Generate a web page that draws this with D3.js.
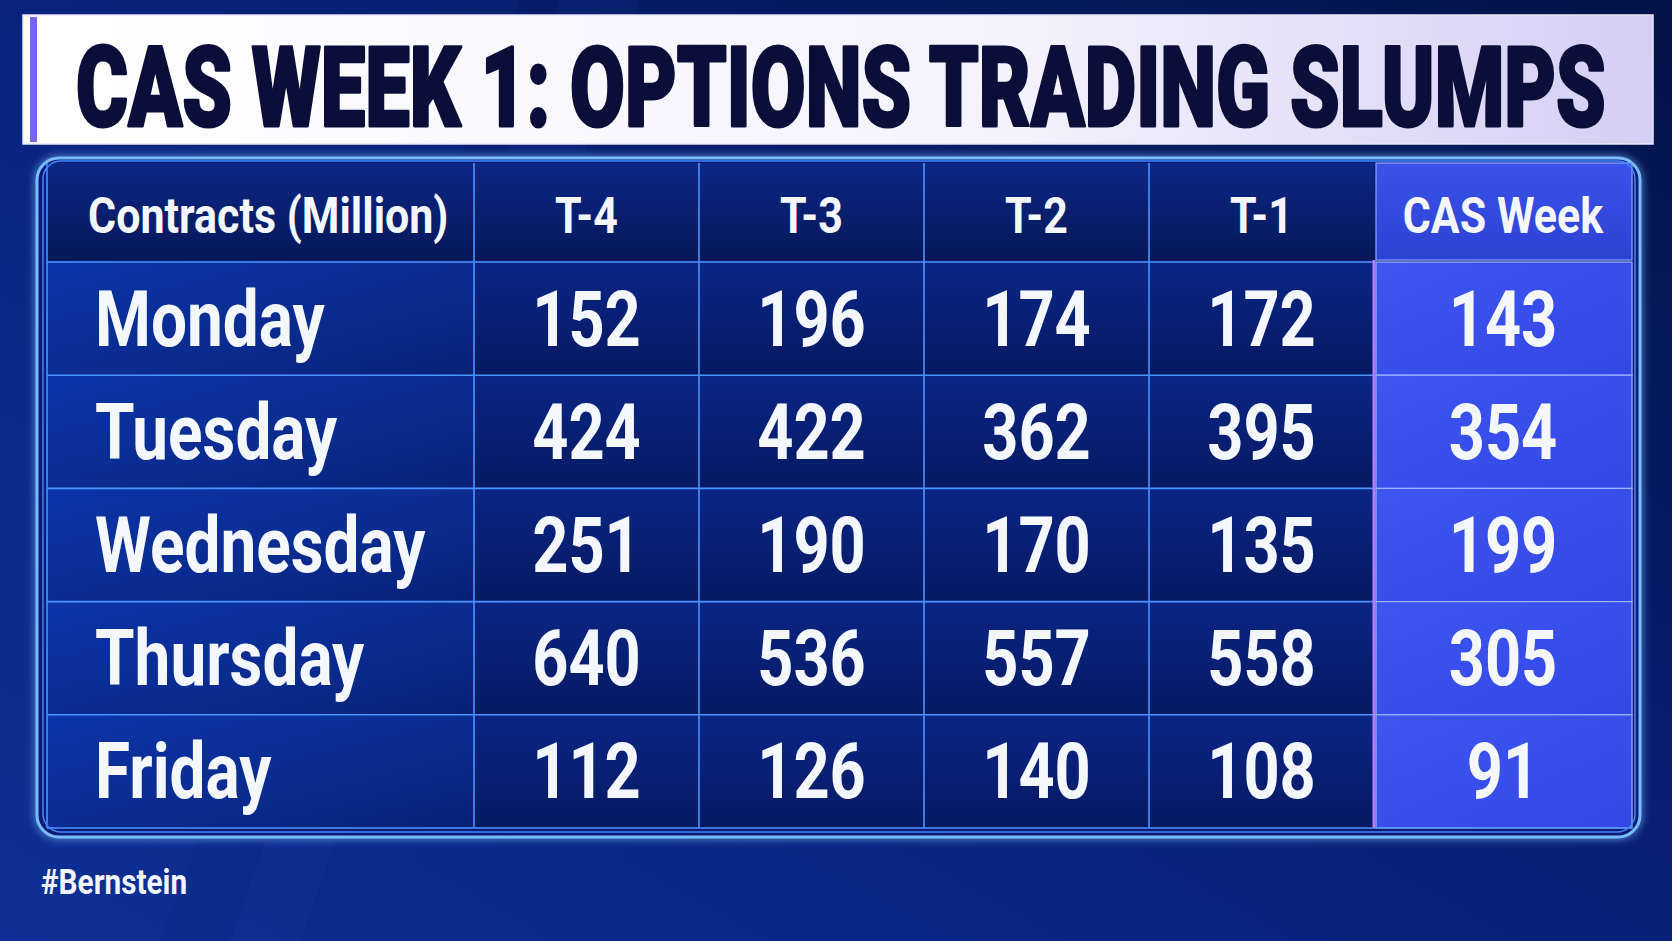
<!DOCTYPE html>
<html>
<head>
  <meta charset="utf-8">
  <title>CAS Week 1: Options Trading Slumps</title>
  <style>
    html, body { margin: 0; padding: 0; background: #061a5e; }
    svg { display: block; }
    text { font-family: Roboto, "Liberation Sans", sans-serif; }
  </style>
</head>
<body>
  <svg id="chart"></svg>

  <script src="https://d3js.org/d3.v7.min.js"></script>

  <script>
    // Data pulled from the table
    const title = 'CAS WEEK 1: OPTIONS TRADING SLUMPS';
    const cornerLabel = 'Contracts (Million)';
    const periods = ['T-4', 'T-3', 'T-2', 'T-1'];
    const currentLabel = 'CAS Week';
    const days = ['Monday', 'Tuesday', 'Wednesday', 'Thursday', 'Friday'];
    const t4 = [152, 424, 251, 640, 112];
    const t3 = [196, 422, 190, 536, 126];
    const t2 = [174, 362, 170, 557, 140];
    const t1 = [172, 395, 135, 558, 108];
    const casWeek = [143, 354, 199, 305, 91];
    const source = '#Bernstein';

    const seriesByPeriod = { 'T-4': t4, 'T-3': t3, 'T-2': t2, 'T-1': t1 };

    const W = 1672, H = 941;
    const svg = d3.select('#chart').attr('width', W).attr('height', H);
    const defs = svg.append('defs');

    // gradients
    function linGrad(id, x1, y1, x2, y2, stops) {
      const g = defs.append('linearGradient').attr('id', id)
        .attr('x1', x1).attr('y1', y1).attr('x2', x2).attr('y2', y2);
      stops.forEach(s => g.append('stop').attr('offset', s[0]).attr('stop-color', s[1]));
    }
    linGrad('bg', '1', '0', '0', '1', [[0, '#031348'], [0.5, '#082078'], [1, '#0c2d92']]);
    linGrad('banner', '0', '0', '1', '0', [[0, '#ffffff'], [0.6, '#f4f3fd'], [1, '#d4cff4']]);
    linGrad('headCell', '0', '0', '0', '1', [[0, '#0c2786'], [1, '#061858']]);
    linGrad('labelCell', '0', '0', '1', '1', [[0, '#0c34a8'], [0.6, '#0a2b8e'], [1, '#072176']]);
    linGrad('bodyCell', '0', '0', '0', '1', [[0, '#0a2585'], [1, '#061a62']]);
    linGrad('casHead', '0', '0', '0', '1', [[0, '#3b52ea'], [1, '#2c42d2']]);
    linGrad('casCell', '0', '0', '1', '1', [[0, '#3e55f2'], [1, '#3347e4']]);

    const glow = defs.append('filter').attr('id', 'glow')
      .attr('x', '-5%').attr('y', '-5%').attr('width', '110%').attr('height', '110%');
    glow.append('feGaussianBlur').attr('stdDeviation', 4).attr('result', 'b');
    const merge = glow.append('feMerge');
    merge.append('feMergeNode').attr('in', 'b');
    merge.append('feMergeNode').attr('in', 'SourceGraphic');

    // background
    svg.append('rect').attr('width', W).attr('height', H).attr('fill', 'url(#bg)');
    svg.append('polygon').attr('points', '0,0 520,0 160,941 0,941')
      .attr('fill', '#1a3fb0').attr('opacity', 0.12);
    svg.append('polygon').attr('points', '560,0 640,0 300,941 230,941')
      .attr('fill', '#2a55d0').attr('opacity', 0.08);

    // title banner
    svg.append('rect').attr('x', 23).attr('y', 15).attr('width', 1630).attr('height', 129)
      .attr('fill', 'url(#banner)').attr('stroke', '#e8e6fb').attr('stroke-width', 1.5);
    svg.append('rect').attr('x', 30).attr('y', 17).attr('width', 7).attr('height', 125)
      .attr('fill', '#7566ee');
    const titleG = svg.append('g');
    const titleText = titleG.append('text')
      .attr('font-size', 112).attr('font-weight', 900).attr('fill', '#0a0e38')
      .attr('stroke', '#0a0e38').attr('stroke-width', 3).attr('stroke-linejoin', 'round')
      .text(title);
    const titleLen = titleText.node().getComputedTextLength();
    titleG.attr('transform', `translate(76,126) scale(${1530 / titleLen},1)`);

    // table geometry
    const tTop = 163, headBottom = 260, tBottom = 828;
    const tLeft = 47, tRight = 1632, labelRight = 474, casLeft = 1374;

    const x = d3.scaleBand().domain(periods).range([labelRight, casLeft]);
    const y = d3.scaleBand().domain(days).range([headBottom + 2, tBottom]);

    // outer frame
    svg.append('rect').attr('x', 37).attr('y', 158).attr('width', 1603).attr('height', 679)
      .attr('rx', 22).attr('fill', '#081f72').attr('stroke', '#78bcff')
      .attr('stroke-width', 3).attr('filter', 'url(#glow)');

    const table = svg.append('g');

    // header cells
    table.append('rect').attr('x', tLeft).attr('y', tTop)
      .attr('width', labelRight - tLeft).attr('height', headBottom - tTop)
      .attr('fill', 'url(#headCell)');
    table.selectAll('.head').data(periods).join('rect').attr('class', 'head')
      .attr('x', d => x(d)).attr('y', tTop)
      .attr('width', x.bandwidth()).attr('height', headBottom - tTop)
      .attr('fill', 'url(#headCell)');
    table.append('rect').attr('x', casLeft + 2).attr('y', tTop)
      .attr('width', tRight - casLeft - 2).attr('height', headBottom - tTop)
      .attr('fill', 'url(#casHead)').attr('stroke', '#8aa6ff').attr('stroke-width', 1.2);

    // body cells
    const rows = table.selectAll('.row').data(days).join('g').attr('class', 'row')
      .attr('transform', d => `translate(0,${y(d)})`);
    rows.append('rect').attr('x', tLeft).attr('y', 0)
      .attr('width', labelRight - tLeft).attr('height', y.bandwidth())
      .attr('fill', 'url(#labelCell)');
    rows.selectAll('.cell').data(periods).join('rect').attr('class', 'cell')
      .attr('x', p => x(p)).attr('y', 0)
      .attr('width', x.bandwidth()).attr('height', y.bandwidth())
      .attr('fill', 'url(#bodyCell)');
    rows.append('rect').attr('x', casLeft + 2).attr('y', 0)
      .attr('width', tRight - casLeft - 2).attr('height', y.bandwidth())
      .attr('fill', 'url(#casCell)').attr('stroke', '#9db4ff').attr('stroke-width', 1.2);

    // grid lines
    const grid = table.append('g').attr('stroke', '#4c93ff').attr('stroke-width', 1.6);
    grid.selectAll('.h').data(days).join('line')
      .attr('x1', tLeft).attr('x2', casLeft)
      .attr('y1', d => y(d)).attr('y2', d => y(d));
    grid.append('line').attr('x1', tLeft).attr('x2', tRight).attr('y1', tBottom).attr('y2', tBottom);
    grid.selectAll('.v').data(periods).join('line')
      .attr('x1', d => x(d)).attr('x2', d => x(d))
      .attr('y1', tTop).attr('y2', tBottom);
    grid.append('line').attr('x1', tLeft).attr('x2', tLeft).attr('y1', tTop).attr('y2', tBottom);
    table.append('line').attr('x1', casLeft).attr('x2', casLeft)
      .attr('y1', headBottom).attr('y2', tBottom)
      .attr('stroke', '#b47cff').attr('stroke-width', 3);

    // text helper: condensed white text
    function label(g, tx, ty, str, size, anchor, sx) {
      g.append('g').attr('transform', `translate(${tx},${ty}) scale(${sx || 0.82},1)`)
        .append('text').attr('text-anchor', anchor).attr('font-size', size)
        .attr('font-weight', 700).attr('fill', '#f5f7ff').text(str);
    }

    // header labels
    const headY = 233;
    label(table, 88, headY, cornerLabel, 50, 'start', 0.86);
    periods.forEach(p => label(table, x(p) + x.bandwidth() / 2, headY, p, 50, 'middle', 0.86));
    label(table, (casLeft + tRight) / 2, headY, currentLabel, 50, 'middle', 0.86);

    // body labels and values
    days.forEach((d, i) => {
      const cy = y(d) + y.bandwidth() / 2 + 27;
      label(table, 95, cy, d, 77, 'start', 0.83);
      periods.forEach(p => label(table, x(p) + x.bandwidth() / 2, cy, seriesByPeriod[p][i], 77, 'middle'));
      label(table, (casLeft + tRight) / 2, cy, casWeek[i], 77, 'middle');
    });

    // inner frame line
    svg.append('rect').attr('x', 43).attr('y', 161).attr('width', 1592).attr('height', 671)
      .attr('rx', 18).attr('fill', 'none').attr('stroke', '#3f86ff').attr('stroke-width', 1.5);

    // source
    svg.append('g').attr('transform', 'translate(41,894) scale(0.85,1)')
      .append('text').attr('font-size', 35).attr('font-weight', 700)
      .attr('fill', '#f2f4ff').text(source);
  </script>
</body>
</html>
